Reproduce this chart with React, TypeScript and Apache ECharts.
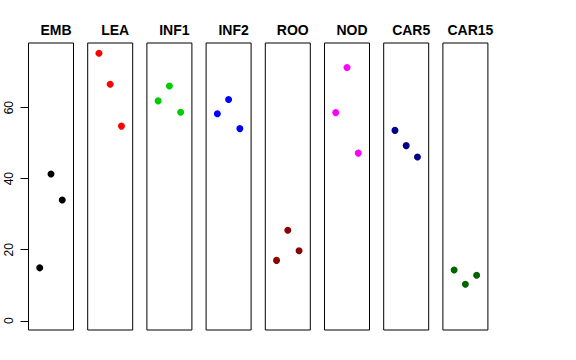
import React, { useEffect, useRef } from "react";
import * as echarts from "echarts";

const categories = ["EMB", "LEA", "INF1", "INF2", "ROO", "NOD", "CAR5", "CAR15"];
const colors = ["#000000", "#FF0000", "#00CD00", "#0000FF", "#8B0000", "#FF00FF", "#00008B", "#006400"];
const positions = [1, 2, 3];
const values: number[][] = [
  [14.9, 41.3, 34.0],
  [75.3, 66.6, 54.8],
  [61.9, 66.1, 58.7],
  [58.3, 62.3, 54.1],
  [17.0, 25.5, 19.7],
  [58.6, 71.3, 47.2],
  [53.6, 49.3, 46.1],
  [14.3, 10.3, 12.8],
];
const yTicks = [0, 20, 40, 60];

export default function App() {
  const ref = useRef<HTMLDivElement>(null);
  useEffect(() => {
    if (!ref.current) return;
    const chart = echarts.init(ref.current, undefined, { renderer: "svg" });
    const left0 = 28.5;
    const pitch = 59.2;
    const w = 45;
    const top = 43;
    const h = 287;
    const yMin = -2.6;
    const yMax = 78.2;
    const grids: any[] = [];
    const xAxes: any[] = [];
    const yAxes: any[] = [];
    const series: any[] = [];
    const titles: any[] = [];
    categories.forEach((cat, i) => {
      const l = left0 + i * pitch;
      grids.push({
        left: l,
        top,
        width: w,
        height: h,
        show: true,
        borderColor: "#000",
        borderWidth: 1,
        backgroundColor: "transparent",
      });
      xAxes.push({
        gridIndex: i,
        type: "value",
        min: 0,
        max: 4,
        show: false,
      });
      yAxes.push({
        gridIndex: i,
        type: "value",
        min: yMin,
        max: yMax,
        show: i === 0,
        axisLine: { show: false },
        splitLine: { show: false },
        axisTick: {
          show: true,
          length: 8,
          lineStyle: { color: "#000", width: 1 },
          customValues: yTicks,
        },
        axisLabel: {
          show: true,
          rotate: 90,
          margin: 14,
          fontSize: 12,
          fontFamily: "Liberation Sans, Arial, sans-serif",
          color: "#000",
          customValues: yTicks,
          formatter: (v: number) => String(v),
        },
      });
      series.push({
        type: "scatter",
        xAxisIndex: i,
        yAxisIndex: i,
        symbol: "circle",
        symbolSize: 7,
        itemStyle: { color: colors[i], opacity: 1 },
        data: positions.map((p, k) => [p, values[i][k]]),
      });
      titles.push({
        text: cat,
        left: l + w / 2,
        top: 18,
        textAlign: "center",
        textStyle: {
          fontSize: 14,
          fontWeight: "bold",
          fontFamily: "Liberation Sans, Arial, sans-serif",
          color: "#000",
        },
      });
    });
    chart.setOption({
      animation: false,
      backgroundColor: "#fff",
      title: titles,
      grid: grids,
      xAxis: xAxes,
      yAxis: yAxes,
      series,
    });
    return () => chart.dispose();
  }, []);
  return (
    <div
      ref={ref}
      style={{ position: "fixed", left: 0, top: 0, width: 576, height: 360 }}
    />
  );
}
